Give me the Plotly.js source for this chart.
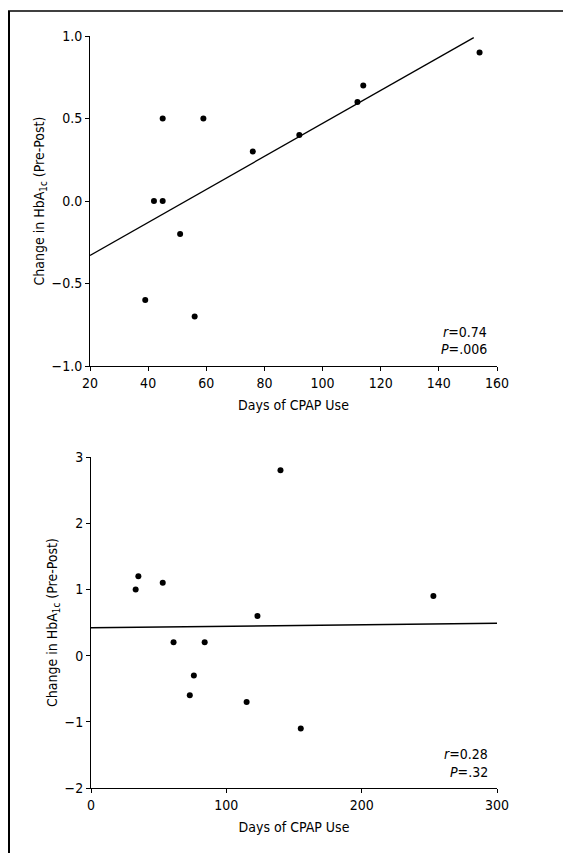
<!DOCTYPE html>
<html>
<head>
<meta charset="utf-8">
<script src="https://cdn.plot.ly/plotly-3.0.1.min.js"></script>
<style>
html,body{margin:0;padding:0;background:#fff;}
#chart{width:563px;height:853px;}
</style>
</head>
<body>
<div id="chart"></div>
<script>
// Top panel data
const daysA = [39, 42, 45, 45, 51, 56, 59, 76, 92, 112, 114, 154];
const hbA   = [-0.6, 0, 0, 0.5, -0.2, -0.7, 0.5, 0.3, 0.4, 0.6, 0.7, 0.9];
const fitAX = [20, 152];
const fitAY = [-0.33, 0.99];
const xTicksA = [20, 40, 60, 80, 100, 120, 140, 160];
const yTicksA = [-1.0, -0.5, 0.0, 0.5, 1.0];
const statsA = ["<i>r</i>=0.74", "<i>P</i>=.006"];

// Bottom panel data
const daysB = [33, 35, 53, 61, 73, 76, 84, 115, 123, 140, 155, 253];
const hbB   = [1.0, 1.2, 1.1, 0.2, -0.6, -0.3, 0.2, -0.7, 0.6, 2.8, -1.1, 0.9];
const fitBX = [0, 300];
const fitBY = [0.42, 0.49];
const xTicksB = [0, 100, 200, 300];
const yTicksB = [-2, -1, 0, 1, 2, 3];
const statsB = ["<i>r</i>=0.28", "<i>P</i>=.32"];

const FONT = '"DejaVu Sans Condensed", "Liberation Sans Narrow", Arial, sans-serif';
const FS = 14;
const W = 563, H = 853;
const px = v => v / W;
const py = v => 1 - v / H;

const marker = {color: '#000', size: 6};
const traces = [
  {x: daysA, y: hbA, mode: 'markers', type: 'scatter', marker: marker, xaxis: 'x', yaxis: 'y'},
  {x: fitAX, y: fitAY, mode: 'lines', type: 'scatter', line: {color: '#000', width: 1.3}, xaxis: 'x', yaxis: 'y'},
  {x: daysB, y: hbB, mode: 'markers', type: 'scatter', marker: marker, xaxis: 'x2', yaxis: 'y2'},
  {x: fitBX, y: fitBY, mode: 'lines', type: 'scatter', line: {color: '#000', width: 1.5}, xaxis: 'x2', yaxis: 'y2'}
];

const axisCommon = {
  showgrid: false, zeroline: false, showline: true, linecolor: '#000', linewidth: 1,
  ticks: 'outside', ticklen: 4, tickwidth: 1, tickcolor: '#000',
  tickfont: {family: FONT, size: FS, color: '#000'}, automargin: false
};
const ytitle = {text: 'Change in HbA<sub>1c</sub> (Pre-Post)', font: {family: FONT, size: FS, color: '#000'}, standoff: 3};
const xtitle = {text: 'Days of CPAP Use', font: {family: FONT, size: FS, color: '#000'}, standoff: 10};

const annFont = {family: FONT, size: FS, color: '#000'};
const layout = {
  width: W, height: H,
  margin: {l: 0, r: 0, t: 0, b: 0},
  paper_bgcolor: '#fff', plot_bgcolor: '#fff',
  showlegend: false,
  xaxis: Object.assign({}, axisCommon, {domain: [px(90), px(497)], range: [20, 160], tickvals: xTicksA, anchor: 'y', title: xtitle}),
  yaxis: Object.assign({}, axisCommon, {domain: [py(366), py(36)], range: [-1, 1], tickvals: yTicksA, tickformat: '.1f', anchor: 'x', title: ytitle}),
  xaxis2: Object.assign({}, axisCommon, {domain: [px(91), px(497)], range: [0, 300], tickvals: xTicksB, anchor: 'y2', title: xtitle}),
  yaxis2: Object.assign({}, axisCommon, {domain: [py(788), py(457)], range: [-2, 3], tickvals: yTicksB, anchor: 'x2', title: ytitle}),
  annotations: [
    {text: statsA[0], xref: 'paper', yref: 'paper', x: px(489), y: py(332), xanchor: 'right', yanchor: 'middle', showarrow: false, font: annFont},
    {text: statsA[1], xref: 'paper', yref: 'paper', x: px(489), y: py(349), xanchor: 'right', yanchor: 'middle', showarrow: false, font: annFont},
    {text: statsB[0], xref: 'paper', yref: 'paper', x: px(490), y: py(754), xanchor: 'right', yanchor: 'middle', showarrow: false, font: annFont},
    {text: statsB[1], xref: 'paper', yref: 'paper', x: px(490), y: py(772), xanchor: 'right', yanchor: 'middle', showarrow: false, font: annFont}
  ],
  shapes: [
    {type: 'line', xref: 'paper', yref: 'paper', x0: px(9), x1: px(9), y0: 0, y1: py(11), line: {color: '#000', width: 2}},
    {type: 'line', xref: 'paper', yref: 'paper', x0: px(8), x1: 1, y0: py(11), y1: py(11), line: {color: '#000', width: 1.5}}
  ]
};

Plotly.newPlot('chart', traces, layout, {displayModeBar: false, staticPlot: true});
</script>
</body>
</html>
